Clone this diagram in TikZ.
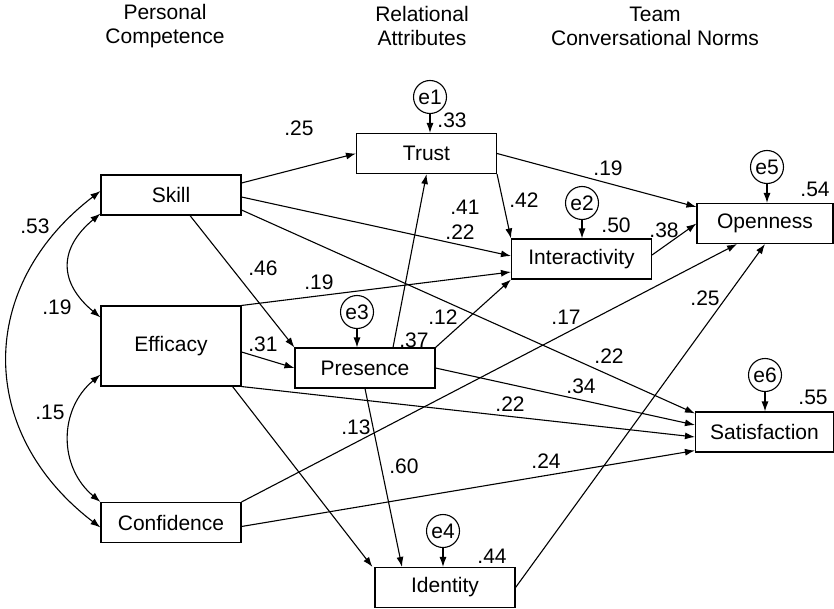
\documentclass[tikz,border=0pt]{standalone}
\usepackage{fontspec}
\setmainfont{Liberation Sans}
\usepackage{tikz}
\usetikzlibrary{arrows.meta, positioning, calc}

\begin{document}
\begin{tikzpicture}[
    x=0.5pt, y=-0.5pt,
    font=\fontsize{10.5}{12}\selectfont,
    var/.style     = {draw, line width=0.55pt, minimum width=70pt,
                      minimum height=20pt, inner sep=0pt},
    err/.style     = {draw, circle, line width=0.55pt, minimum size=16.5pt,
                      inner sep=0pt},
    lbl/.style     = {inner sep=1pt},
    head/.style    = {align=center, inner sep=0pt},
    path/.style    = {-{Latex[length=5pt,width=3.5pt]}, line width=0.55pt},
    cov/.style     = {{Latex[length=5pt,width=3.5pt]}-{Latex[length=5pt,width=3.5pt]},
                      line width=0.55pt}
]
\useasboundingbox (0,0) rectangle (834,609);

% Column headings
\node[head] (hPC) at (165,26) {Personal\\Competence};
\node[head] (hRA) at (422,26) {Relational\\Attributes};
\node[head] (hTN) at (655,26) {Team\\Conversational Norms};

% Observed variables
\node[var] (skill) at (171,195) {Skill};
\node[var, minimum height=40pt] (eff) at (171,346) {Efficacy};
\node[var] (conf) at (171,522.5) {Confidence};
\node[var] (trust) at (426.5,153.5) {Trust};
\node[var] (pres) at (365,368) {Presence};
\node[var] (inter) at (581.5,259) {Interactivity};
\node[var] (ident) at (445,587.5) {Identity};
\node[var, minimum width=68pt] (open) at (765,223.5) {Openness};
\node[var, minimum width=69pt] (sat) at (764.5,432) {Satisfaction};

% Error terms
\node[err] (e1) at (430,97) {e1};
\node[err] (e2) at (582,203) {e2};
\node[err] (e3) at (357,312) {e3};
\node[err] (e4) at (443,531) {e4};
\node[err] (e5) at (767,167) {e5};
\node[err] (e6) at (765,375) {e6};

\draw[path] (e1) -- (e1 |- trust.north);
\draw[path] (e2) -- (e2 |- inter.north);
\draw[path] (e3) -- (e3 |- pres.north);
\draw[path] (e4) -- (e4 |- ident.north);
\draw[path] (e5) -- (e5 |- open.north);
\draw[path] (e6) -- (e6 |- sat.north);

% Correlations among the personal competence variables
\draw[cov] ([yshift=1pt]skill.south west) .. controls +(-42,35) and +(-42,-35) .. ([yshift=-6pt]eff.north west);
\draw[cov] ([yshift=6pt]eff.south west) .. controls +(-42,35) and +(-42,-35) .. (conf.north west);
\draw[cov] ([yshift=2pt]skill.west) .. controls +(-124,95) and +(-124,-95) .. ([yshift=-2.5pt]conf.west);

% Paths from Skill
\draw[path] ([yshift=6pt]skill.east) -- (trust.west);
\draw[path] ([yshift=-1pt]skill.east) -- ([yshift=1.5pt]inter.west);
\draw[path] ([yshift=-7.5pt]skill.east) -- ([yshift=-1pt]sat.north west);
\draw[path] ([xshift=9.5pt]skill.south) -- (pres.north west);

% Paths from Efficacy
\draw[path] (eff.north east) -- ([yshift=-6.5pt]inter.west);
\draw[path] ([yshift=-3pt]eff.east) -- (pres.west);
\draw[path] (eff.south east) -- ([yshift=-2.5pt]sat.west);
\draw[path] ([xshift=-4.5pt]eff.south east) -- ([xshift=-1pt]ident.north west);

% Paths from Confidence
\draw[path] (conf.north east) -- ([xshift=-14pt]open.south);
\draw[path] ([yshift=-2pt]conf.east) -- ([yshift=1pt]sat.south west);

% Paths from the relational attributes
\draw[path] ([xshift=14pt]pres.north) -- (trust.south);
\draw[path] (pres.north east) -- (inter.south west);
\draw[path] (pres.east) -- ([yshift=3.5pt]sat.west);
\draw[path] (pres.south) -- ([xshift=-21.5pt]ident.north);
\draw[path] (trust.east) -- ([yshift=-2pt]open.north west);
\draw[path] (trust.south east) -- (inter.north west);
\draw[path] ([yshift=2pt]inter.east) -- (open.west);
\draw[path] (ident.east) -- (open.south);

% Coefficients
\node[lbl] (c53) at (35,226) {.53};
\node[lbl] (c19a) at (57,307) {.19};
\node[lbl] (c15) at (50,412) {.15};
\node[lbl] (c25a) at (299,128) {.25};
\node[lbl] (c33) at (452,120) {.33};
\node[lbl] (c19b) at (608,168) {.19};
\node[lbl] (c42) at (524,200) {.42};
\node[lbl] (c50) at (616,225) {.50};
\node[lbl] (c38) at (664,230) {.38};
\node[lbl] (c54) at (815,189) {.54};
\node[lbl] (c41) at (465,207) {.41};
\node[lbl] (c22a) at (460,232) {.22};
\node[lbl] (c46) at (263,268) {.46};
\node[lbl] (c19c) at (319,282) {.19};
\node[lbl] (c17) at (566,317) {.17};
\node[lbl] (c25b) at (705,298) {.25};
\node[lbl] (c12) at (443,317) {.12};
\node[lbl] (c37) at (414,340) {.37};
\node[lbl] (c31) at (263,344) {.31};
\node[lbl] (c22b) at (609,356) {.22};
\node[lbl] (c34) at (581,386) {.34};
\node[lbl] (c22c) at (510,404) {.22};
\node[lbl] (c55) at (813,397) {.55};
\node[lbl] (c13) at (356,427) {.13};
\node[lbl] (c60) at (404,466) {.60};
\node[lbl] (c24) at (546,461) {.24};
\node[lbl] (c44) at (492,556) {.44};

\end{tikzpicture}
\end{document}
